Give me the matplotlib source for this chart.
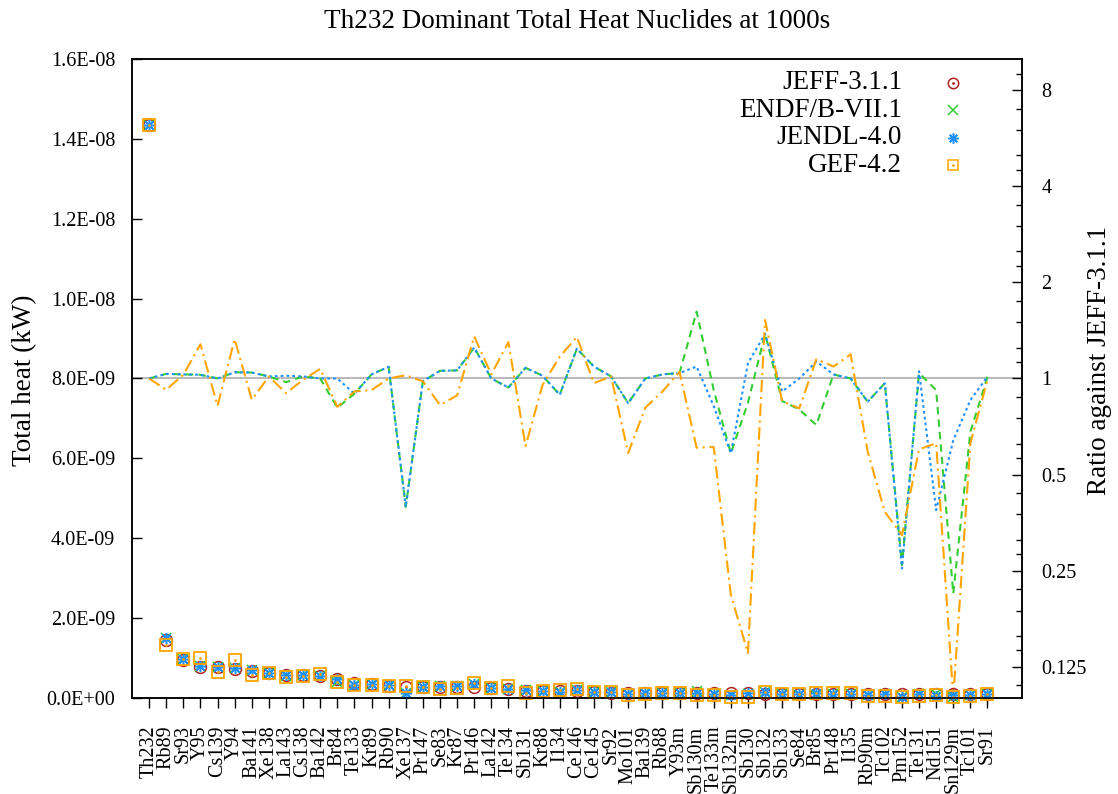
import matplotlib
matplotlib.use('Agg')
import matplotlib.pyplot as plt
import numpy as np
from matplotlib.ticker import FixedLocator, FuncFormatter, NullFormatter

plt.rcParams['font.family'] = ['Liberation Serif', 'DejaVu Serif']

nuclides = ['Th232', 'Rb89', 'Sr93', 'Y95', 'Cs139', 'Y94', 'Ba141', 'Xe138', 'La143', 'Cs138',
            'Ba142', 'Br84', 'Te133', 'Kr89', 'Rb90', 'Xe137', 'Pr147', 'Se83', 'Kr87', 'Pr146',
            'La142', 'Te134', 'Sb131', 'Kr88', 'I134', 'Ce146', 'Ce145', 'Sr92', 'Mo101', 'Ba139',
            'Rb88', 'Y93m', 'Sb130m', 'Te133m', 'Sb132m', 'Sb130', 'Sb132', 'Sb133', 'Se84', 'Br85',
            'Pr148', 'I135', 'Rb90m', 'Tc102', 'Pm152', 'Te131', 'Nd151', 'Sn129m', 'Tc101', 'Sr91']

# JEFF-3.1.1 total heat, in units of 1E-09 kW
jeff_heat = [14.35, 1.44, 0.95, 0.78, 0.78, 0.71, 0.66, 0.62, 0.57, 0.56,
             0.55, 0.48, 0.36, 0.34, 0.30, 0.28, 0.28, 0.27, 0.27, 0.27,
             0.24, 0.23, 0.18, 0.17, 0.17, 0.16, 0.14, 0.13, 0.12, 0.12,
             0.12, 0.11, 0.11, 0.11, 0.11, 0.11, 0.10, 0.10, 0.10, 0.10,
             0.10, 0.10, 0.09, 0.09, 0.09, 0.09, 0.09, 0.09, 0.085, 0.085]

# ratios against JEFF-3.1.1
endf_ratio = [1.0, 1.034, 1.03, 1.027, 1.0, 1.046, 1.044, 1.015, 0.974, 1.015,
              1.0, 0.81, 0.896, 1.03, 1.088, 0.396, 0.98, 1.057, 1.06, 1.25,
              1.0, 0.937, 1.08, 1.02, 0.889, 1.24, 1.09, 1.015, 0.837, 1.0,
              1.03, 1.04, 1.62, 0.92, 0.583, 0.84, 1.38, 0.85, 0.80, 0.715,
              1.03, 1.0, 0.846, 0.966, 0.26, 1.04, 0.92, 0.212, 0.68, 1.013]
jendl_ratio = [1.0, 1.034, 1.03, 1.027, 1.0, 1.046, 1.044, 1.015, 1.02, 1.015,
               1.0, 1.0, 0.896, 1.03, 1.088, 0.396, 0.98, 1.057, 1.06, 1.25,
               1.0, 0.937, 1.08, 1.02, 0.889, 1.24, 1.09, 1.015, 0.837, 1.0,
               1.03, 1.04, 1.09, 0.82, 0.583, 1.116, 1.38, 0.91, 1.0, 1.13,
               1.03, 1.0, 0.846, 0.966, 0.254, 1.054, 0.387, 0.64, 0.856, 1.013]
gef_ratio = [1.0, 0.922, 1.027, 1.28, 0.821, 1.33, 0.858, 1.015, 0.90, 0.99,
             1.072, 0.815, 0.911, 0.92, 1.0, 1.024, 0.98, 0.826, 0.885, 1.355,
             1.03, 1.30, 0.614, 0.956, 1.17, 1.35, 0.967, 1.015, 0.584, 0.81,
             0.91, 1.05, 0.607, 0.61, 0.21, 0.138, 1.525, 0.85, 0.806, 1.15,
             1.09, 1.19, 0.59, 0.382, 0.323, 0.60, 0.627, 0.1, 0.627, 0.99]

labels = ['JEFF-3.1.1', 'ENDF/B-VII.1', 'JENDL-4.0', 'GEF-4.2']
c_jeff, c_endf, c_jendl, c_gef = '#b22222', '#33cc33', '#1e90ff', '#ffa500'

x = np.arange(len(nuclides))
jeff = np.array(jeff_heat) * 1e-9
endf = jeff * np.array(endf_ratio)
jendl = jeff * np.array(jendl_ratio)
gef = jeff * np.array(gef_ratio)

fig = plt.figure(figsize=(11.18, 7.94), dpi=100)
ax = fig.add_axes([132 / 1118, 1 - 697.7 / 794, (1021.7 - 132) / 1118, (697.7 - 59.3) / 794])
ax2 = ax.twinx()

# ratio curves (right axis)
ax2.set_yscale('log', base=2)
ax2.axhline(1, color='#bbbbbb', lw=1.5, zorder=1)
ax2.plot(x, endf_ratio, color=c_endf, lw=1.5, dashes=(3.5, 2.5))
ax2.plot(x, jendl_ratio, color=c_jendl, lw=1.5, dashes=(1.3, 1.5))
ax2.plot(x, gef_ratio, color=c_gef, lw=1.5, dashes=(6, 2.2, 1, 2.2))

# total heat points (left axis, drawn on top)
ax.set_zorder(ax2.get_zorder() + 1)
ax.patch.set_visible(False)
mk = dict(ls='none', mfc='none', clip_on=False)
ax.plot(x, jeff, marker='o', ms=8.5, mec=c_jeff, mew=1.1, **mk)
ax.plot(x, jeff, marker='.', ms=2, color=c_jeff, ls='none')
ax.plot(x, endf, marker='x', ms=7, mec=c_endf, mew=1.1, **mk)
ax.plot(x, jendl, marker=(8, 2, 0), ms=8, mec=c_jendl, mew=1.1, **mk)
ax.plot(x, gef, marker='s', ms=8.5, mec=c_gef, mew=1.3, **mk)
ax.plot(x, gef, marker='.', ms=2, color=c_gef, ls='none')

ax.set_xlim(-1, 51)
ax.set_ylim(0, 1.6e-8)
ax.set_yticks(np.arange(0, 1.61e-8, 2e-9))
ax.yaxis.set_major_formatter(FuncFormatter(lambda v, p: '%.1E' % v))
ax.set_xticks(x)
ax.set_xticklabels(nuclides, rotation=90, fontsize=14.5)
ax.tick_params(axis='y', direction='in', length=7, width=1, labelsize=14.5, pad=12, right=False)
ax.tick_params(axis='x', direction='out', length=7.5, width=1, pad=12.5, top=False)

ax2.set_ylim(0.1, 10)
ax2.yaxis.set_major_locator(FixedLocator([0.125, 0.25, 0.5, 1, 2, 4, 8]))
ax2.yaxis.set_major_formatter(FuncFormatter(lambda v, p: '%g' % v))
minors = [b * m for b in [0.0625, 0.125, 0.25, 0.5, 1, 2, 4, 8] for m in [1.125, 1.25, 1.5, 1.75]]
ax2.yaxis.set_minor_locator(FixedLocator([v for v in minors if 0.1 < v < 10]))
ax2.yaxis.set_minor_formatter(NullFormatter())
ax2.tick_params(axis='y', which='major', direction='in', length=7.5, width=1, labelsize=14.5, pad=14)
ax2.tick_params(axis='y', which='minor', direction='in', length=4, width=1)

for a in (ax, ax2):
    for s in a.spines.values():
        s.set_linewidth(1.1)

# legend, text right-aligned with symbol on the right
leg_y = [0.963, 0.920, 0.877, 0.834]
leg_style = [dict(marker='o', mec=c_jeff), dict(marker='x', mec=c_endf),
             dict(marker=(8, 2, 0), mec=c_jendl), dict(marker='s', mec=c_gef)]
for lab, yy, st in zip(labels, leg_y, leg_style):
    ax.text(0.8655, yy, lab, transform=ax.transAxes, ha='right', va='center', fontsize=19.5)
    ax.plot([0.923], [yy], transform=ax.transAxes, ls='none', mfc='none', ms=7.5, mew=1.1, **st)
ax.plot([0.923, 0.923], [leg_y[0], leg_y[3]], transform=ax.transAxes, ls='none', marker='.', ms=2,
        color=c_jeff)
ax.lines[-1].set_data([0.923], [leg_y[0]])
ax.plot([0.923], [leg_y[3]], transform=ax.transAxes, ls='none', marker='.', ms=2, color=c_gef)

fig.text(0.516, 1 - 22 / 794, 'Th232 Dominant Total Heat Nuclides at 1000s', ha='center', va='center',
         fontsize=19.5)
fig.text(25 / 1118, 1 - 380 / 794, 'Total heat (kW)', rotation=90, ha='center', va='center', fontsize=19.5)
fig.text(1100 / 1118, 1 - 360 / 794, 'Ratio against JEFF-3.1.1', rotation=90, ha='center', va='center',
         fontsize=19.5)

fig.savefig('out.png', dpi=100)
